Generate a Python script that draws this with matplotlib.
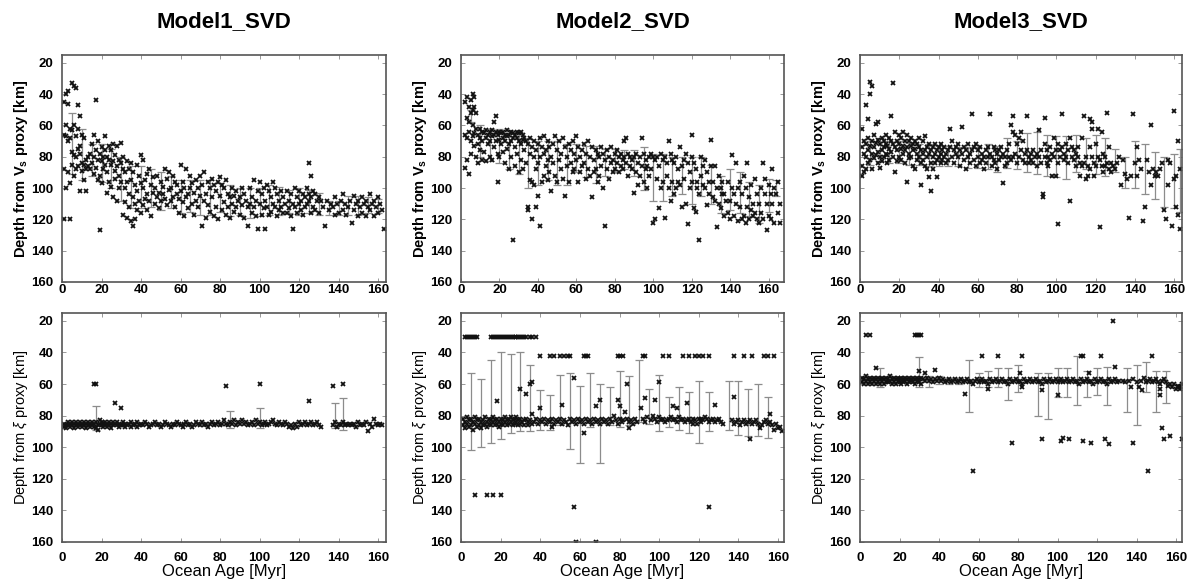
import matplotlib
matplotlib.use("Agg")
import matplotlib.pyplot as plt
import numpy as np

plt.rcParams['font.family'] = ['Liberation Sans', 'DejaVu Sans']
plt.rcParams['mathtext.fontset'] = 'custom'
plt.rcParams['mathtext.rm'] = 'Liberation Sans'
plt.rcParams['mathtext.it'] = 'Liberation Sans:italic'
plt.rcParams['mathtext.bf'] = 'Liberation Sans:bold'

titles = ["Model1_SVD", "Model2_SVD", "Model3_SVD"]
xticks = [0, 20, 40, 60, 80, 100, 120, 140, 160]
yticks = [20, 40, 60, 80, 100, 120, 140, 160]

# ---------------- Model1, Vs proxy ----------------
m1_vs = [
(1,45),(1,66),(1,88),(1,120),(2,40),(2,60),(2,67),(2,100),(3,38),(3,70),(3,46),(3,90),(4,62),(4,68),(4,97),(4,120),
(5,33),(5,63),(5,77),(5,85),(6,35),(6,60),(6,79),(6,92),(7,36),(7,67),(7,80),(7,88),(8,47),(8,62),(8,75),(8,86),
(9,54),(9,73),(9,78),(9,102),(10,66),(10,84),(10,89),(11,68),(11,85),(11,95),(12,82),(12,88),(12,102),(13,80),(13,86),
(14,78),(14,88),(15,72),(15,84),(16,66),(16,80),(16,91),(17,44),(17,76),(17,87),(18,70),(18,82),(18,95),(19,127),(19,78),
(19,92),(20,74),(20,83),(20,97),(21,80),(21,88),(22,67),(22,76),(22,85),(23,80),(23,90),(23,103),(24,73),(24,82),(24,96),
(25,76),(25,85),(25,99),(26,72),(26,83),(26,106),(27,79),(27,89),(27,94),(28,73),(28,86),(28,108),(29,82),(29,92),(29,100),
(30,71),(30,84),(30,96),(31,80),(31,88),(31,117),(32,90),(32,100),(32,109),(33,83),(33,96),(33,119),(34,88),(34,104),(34,112),
(35,84),(35,95),(35,121),(36,90),(36,106),(36,124),(37,98),(37,110),(37,120),(38,85),(38,102),(38,114),(39,92),(39,108),
(40,79),(40,97),(40,116),(41,82),(41,100),(41,111),(42,95),(42,107),(43,91),(43,104),(43,114),(44,88),(44,108),(45,98),
(45,118),(46,93),(46,103),(47,100),(47,110),(48,92),(48,106),(49,103),(49,113),(50,96),(50,108),(51,99),(51,104),(52,88),
(52,107),(53,94),(53,111),(54,90),(54,101),(55,100),(55,108),(56,92),(56,106),(57,96),(57,112),(58,98),(58,104),(59,107),
(59,116),(60,85),(60,102),(61,96),(61,109),(62,100),(62,118),(63,88),(63,106),(64,104),(64,113),(65,92),(65,100),(66,97),
(66,110),(67,103),(67,117),(68,95),(68,108),(69,100),(69,112),(70,92),(70,105),(71,98),(71,124),(72,90),(72,108),(73,104),
(73,119),(74,96),(74,111),(75,100),(75,115),(76,94),(76,106),(77,98),(77,118),(78,102),(78,112),(79,96),(79,120),(80,93),
(80,105),(81,98),(81,114),(82,100),(82,109),(83,95),(83,117),(84,104),(84,112),(85,106),(85,119),(86,100),(86,110),(87,105),
(87,115),(88,102),(88,112),(89,108),(90,106),(90,117),(91,100),(91,111),(92,104),(92,119),(93,108),(94,112),(94,124),(95,100),
(95,110),(96,106),(96,116),(97,95),(97,112),(98,108),(98,118),(99,102),(99,126),(100,96),(100,110),(101,104),(101,117),
(102,100),(102,113),(103,108),(103,126),(104,98),(104,112),(105,102),(105,117),(106,106),(106,115),(107,96),(107,110),
(108,100),(108,112),(109,104),(109,118),(110,108),(110,114),(111,102),(111,112),(112,106),(112,116),(113,110),(114,102),
(114,116),(115,108),(115,113),(116,104),(116,118),(117,110),(117,126),(118,100),(118,112),(119,106),(119,116),(120,102),
(120,110),(121,108),(121,114),(122,104),(122,117),(123,106),(123,112),(124,100),(124,110),(125,84),(125,104),(125,108),
(126,92),(126,106),(126,116),(127,102),(127,112),(128,104),(128,114),(129,108),(130,106),(130,116),(131,108),(132,112),
(133,124),(134,108),(135,114),(136,110),(137,112),(138,106),(138,117),(139,110),(140,116),(141,108),(142,104),(142,114),
(143,110),(144,117),(145,112),(146,108),(147,122),(148,105),(148,114),(149,110),(150,108),(150,118),(151,112),(152,106),
(152,116),(153,110),(154,108),(154,118),(155,112),(156,104),(156,114),(157,110),(158,108),(158,118),(159,112),(160,106),
(160,116),(161,110),(162,114),(163,126),
]
m1_vs_eb_age = [5,10,15,20,25,30,35,40,45,50,55,60,65,70,75,80,85,90,95,100,105,110,115,120,125,130,135,140,145,150,155,160]
m1_vs_eb_lo = [52,62,72,72,75,80,86,86,88,90,92,95,95,95,95,97,98,100,100,100,98,99,101,100,101,103,108,108,105,105,106,107]
m1_vs_eb_hi = [91,95,92,96,100,108,113,113,112,114,113,116,115,117,117,115,118,117,119,118,117,117,116,117,116,117,117,117,117,117,116,116]

# ---------------- Model2, Vs proxy ----------------
m2_vs = [
(2,45),(2,66),(2,87),(3,42),(3,55),(3,68),(3,82),(4,48),(4,58),(4,64),(4,91),(5,44),(5,52),(5,70),(5,78),(6,40),(6,50),
(6,60),(6,67),(7,42),(7,48),(7,65),(7,73),(8,52),(8,62),(8,80),(9,66),(9,72),(9,84),(10,62),(10,68),(10,76),(11,64),(11,70),
(11,82),(12,65),(12,77),(13,63),(13,68),(13,83),(14,66),(14,72),(15,64),(15,70),(15,80),(16,63),(16,67),(16,82),(17,58),
(17,66),(17,74),(18,54),(18,64),(18,70),(19,66),(19,78),(19,96),(20,64),(20,69),(20,80),(21,65),(21,72),(22,64),(22,68),
(22,77),(23,66),(23,70),(23,84),(24,63),(24,67),(24,75),(25,66),(25,72),(25,88),(26,64),(26,70),(26,80),(27,65),(27,68),
(27,133),(28,66),(28,74),(28,86),(29,64),(29,68),(29,78),(30,65),(30,70),(30,90),(31,64),(31,72),(31,82),(32,66),(32,69),
(32,88),(33,68),(33,76),(34,70),(34,84),(35,72),(35,112),(35,114),(36,68),(36,78),(36,95),(37,74),(37,96),(37,120),(38,70),
(38,80),(38,98),(39,76),(39,88),(39,112),(40,72),(40,84),(40,105),(41,68),(41,80),(41,124),(42,74),(42,96),(43,67),(43,78),
(43,92),(44,76),(44,86),(45,70),(45,82),(45,95),(46,74),(46,90),(47,80),(47,102),(48,72),(48,84),(49,67),(49,92),(50,76),
(50,96),(51,70),(51,82),(52,78),(52,88),(53,68),(53,94),(54,74),(54,105),(55,80),(55,86),(56,72),(56,96),(57,76),(57,84),
(58,70),(58,90),(59,78),(59,88),(60,67),(60,82),(61,74),(61,96),(62,80),(62,90),(63,76),(63,86),(64,72),(64,84),(65,78),
(65,94),(66,70),(66,88),(67,80),(67,92),(68,74),(68,106),(69,82),(69,90),(70,76),(70,88),(71,78),(71,96),(72,80),(72,92),
(73,74),(73,86),(74,78),(74,100),(75,82),(75,124),(76,76),(76,88),(77,80),(77,94),(78,74),(78,84),(79,82),(79,90),(80,78),
(80,88),(81,76),(81,84),(82,80),(82,90),(83,78),(83,86),(84,82),(84,88),(85,70),(85,80),(86,68),(86,84),(87,78),(87,92),
(88,80),(88,86),(89,82),(89,88),(90,80),(90,103),(91,78),(91,90),(92,84),(92,98),(93,80),(93,92),(94,68),(94,86),(95,78),
(95,96),(96,82),(96,88),(97,86),(97,100),(98,80),(98,92),(99,78),(99,88),(100,80),(100,122),(101,82),(101,120),(102,80),
(102,94),(103,86),(103,113),(104,78),(104,100),(105,82),(105,96),(106,80),(106,119),(107,84),(107,92),(108,70),(108,100),
(109,78),(109,108),(110,82),(110,96),(111,84),(111,104),(112,80),(112,100),(113,88),(113,96),(114,74),(114,98),(115,86),
(115,112),(116,82),(116,94),(117,78),(117,110),(118,84),(118,123),(119,90),(119,100),(120,66),(120,80),(120,96),(121,84),
(121,113),(122,88),(122,115),(123,96),(123,100),(124,104),(124,133),(125,80),(125,92),(126,86),(126,98),(127,82),(127,100),
(128,90),(128,111),(129,96),(129,104),(130,69),(130,86),(131,96),(131,106),(132,86),(132,108),(133,100),(133,125),(134,92),
(134,110),(135,100),(135,113),(136,96),(136,104),(137,104),(137,118),(138,108),(139,96),(139,116),(140,108),(140,120),
(141,79),(141,100),(142,104),(142,118),(143,84),(143,110),(144,100),(144,121),(145,96),(145,112),(146,104),(146,120),
(147,92),(147,118),(148,100),(148,122),(149,84),(149,112),(150,106),(150,120),(151,98),(151,114),(152,110),(152,118),
(153,94),(153,116),(154,104),(154,120),(155,110),(155,122),(156,100),(156,116),(157,84),(157,120),(158,94),(158,104),
(159,110),(159,127),(160,98),(160,118),(161,104),(161,120),(162,88),(162,110),(163,100),(163,122),(164,104),(165,96),
(165,116),(166,110),(166,122),
]
m2_vs_eb_age = [5,10,15,20,25,30,35,40,45,50,55,60,65,70,75,80,85,90,95,100,105,110,115,120,125,130,135,140,145,150,155,160,164]
m2_vs_eb_lo = [50,60,62,62,63,64,68,70,70,70,72,72,73,73,75,75,76,76,74,78,78,80,80,80,80,85,92,88,90,96,98,94,95]
m2_vs_eb_hi = [58,80,83,84,88,91,100,98,95,98,98,90,93,97,92,90,88,92,101,108,108,105,104,110,105,110,116,114,116,118,122,115,105]

# ---------------- Model3, Vs proxy ----------------
m3_vs = [
(1,62),(1,74),(1,86),(1,92),(2,70),(2,78),(2,90),(3,47),(3,72),(3,80),(3,88),(4,56),(4,68),(4,76),(4,84),(5,32),(5,40),
(5,73),(5,82),(6,35),(6,70),(6,78),(6,88),(7,66),(7,74),(7,81),(8,59),(8,71),(8,79),(9,58),(9,69),(9,77),(9,84),(10,72),
(10,80),(10,87),(11,68),(11,76),(11,83),(12,70),(12,74),(12,80),(13,66),(13,72),(13,78),(14,73),(14,79),(14,84),(15,68),
(15,75),(15,82),(16,54),(16,70),(16,77),(17,33),(17,72),(17,80),(18,64),(18,74),(18,90),(19,70),(19,76),(19,83),(20,66),
(20,72),(20,80),(21,68),(21,75),(21,82),(22,64),(22,73),(22,78),(23,70),(23,76),(23,84),(24,66),(24,74),(24,96),(25,70),
(25,78),(25,81),(26,68),(26,73),(26,80),(27,72),(27,76),(27,86),(28,70),(28,75),(28,88),(29,72),(29,78),(29,82),(30,68),
(30,74),(30,80),(31,76),(31,84),(31,98),(32,70),(32,78),(32,82),(33,67),(33,76),(33,86),(34,74),(34,80),(34,88),(35,72),
(35,78),(35,93),(36,76),(36,84),(36,102),(37,74),(37,80),(37,88),(38,72),(38,78),(38,84),(39,76),(39,82),(39,93),(40,74),
(40,80),(41,72),(41,78),(41,84),(42,76),(42,82),(43,74),(43,80),(44,78),(44,84),(45,76),(45,82),(46,62),(46,74),(47,70),
(47,80),(48,76),(48,84),(49,74),(49,78),(50,72),(50,80),(51,76),(51,86),(52,61),(52,78),(53,74),(53,82),(54,76),(54,88),
(55,72),(55,80),(56,78),(56,84),(57,53),(57,76),(58,74),(58,82),(59,72),(59,86),(60,76),(60,80),(61,74),(61,84),(62,78),
(62,82),(63,80),(63,88),(64,76),(64,84),(65,74),(65,80),(66,53),(66,78),(67,80),(67,86),(68,74),(68,82),(69,76),(69,84),
(70,78),(70,88),(71,76),(71,82),(72,74),(72,80),(73,78),(73,97),(74,80),(74,86),(75,76),(75,84),(76,72),(76,80),(77,60),
(77,82),(78,54),(78,64),(78,80),(79,66),(79,78),(80,72),(80,84),(81,68),(81,80),(82,64),(82,76),(83,70),(83,82),(84,78),
(84,84),(85,54),(85,76),(86,80),(86,84),(87,78),(87,82),(88,76),(88,84),(89,80),(90,78),(90,86),(91,63),(91,80),(92,76),
(92,84),(93,104),(93,106),(94,55),(94,72),(94,80),(95,76),(95,84),(96,80),(96,86),(97,74),(97,82),(98,78),(98,92),(99,68),
(99,80),(100,76),(100,92),(101,72),(101,84),(101,123),(102,76),(102,80),(103,53),(103,74),(104,78),(104,82),(105,72),
(105,80),(106,76),(106,84),(107,68),(107,108),(108,74),(108,80),(109,76),(109,82),(110,78),(110,86),(111,74),(111,80),
(112,84),(112,92),(113,68),(113,86),(114,54),(114,84),(115,80),(115,94),(116,86),(116,92),(117,56),(117,74),(117,88),
(118,58),(118,62),(118,80),(119,84),(119,92),(120,72),(120,86),(121,62),(121,80),(122,82),(122,125),(123,64),(123,86),
(124,78),(124,90),(125,80),(125,86),(126,52),(126,84),(127,74),(127,88),(128,84),(128,90),(129,86),(130,88),(131,84),
(132,80),(133,98),(134,82),(135,91),(136,94),(137,119),(138,92),(139,53),(140,84),(141,74),(141,92),(142,82),(143,88),
(144,121),(145,112),(146,82),(147,90),(148,60),(148,98),(149,88),(150,92),(151,90),(152,92),(153,88),(154,84),(155,114),
(156,120),(157,82),(157,98),(158,84),(159,124),(160,51),(160,94),(161,112),(161,92),(162,117),(162,70),(163,126),(163,88),
]
m3_vs_eb_age = [5,10,15,20,25,30,35,40,45,50,55,60,65,70,75,80,85,90,95,100,105,110,115,120,125,130,135,140,145,150,155,160,163]
m3_vs_eb_lo = [70,68,70,70,71,72,72,73,73,74,74,74,72,73,68,70,65,64,66,67,67,66,68,66,68,75,80,70,72,77,80,78,75]
m3_vs_eb_hi = [85,83,84,84,85,85,86,86,86,86,87,87,88,90,87,88,90,91,92,93,94,90,88,91,92,90,100,100,104,107,112,113,115]

# ---------------- Model1, xi proxy ----------------
m1_xi = [
(1,85),(1,87),(2,86),(2,88),(3,84),(3,86),(4,85),(4,87),(5,86),(5,84),(6,85),(6,88),(7,86),(7,84),(8,87),(8,85),(9,84),
(9,86),(10,85),(10,87),(11,86),(11,84),(12,85),(12,88),(13,84),(13,86),(14,87),(14,85),(15,84),(15,86),(16,60),(16,85),
(16,87),(17,60),(17,84),(17,88),(18,86),(18,89),(19,85),(19,83),(20,86),(20,84),(21,85),(21,87),(22,84),(22,86),(23,85),
(23,87),(24,86),(24,84),(25,85),(25,88),(26,84),(26,86),(27,85),(27,72),(28,86),(28,84),(29,85),(29,87),(30,75),(30,86),
(31,84),(31,86),(32,85),(32,87),(33,86),(34,85),(35,84),(35,87),(36,86),(37,85),(38,84),(38,87),(39,86),(40,85),(41,86),
(42,84),(43,85),(44,87),(45,86),(46,85),(47,84),(48,86),(49,85),(50,87),(51,86),(52,84),(53,85),(54,86),(55,87),(56,85),
(57,86),(58,84),(59,85),(60,86),(61,87),(62,85),(63,84),(64,86),(65,85),(66,87),(67,86),(68,84),(69,85),(70,86),(71,84),
(72,86),(73,85),(74,87),(75,85),(76,84),(77,86),(78,85),(79,84),(80,86),(81,85),(82,83),(83,61),(83,85),(84,86),(85,84),
(86,85),(87,83),(88,86),(89,84),(90,85),(91,83),(92,85),(93,84),(94,86),(95,85),(96,84),(97,86),(98,83),(99,85),(100,60),
(100,84),(101,86),(102,85),(103,84),(104,86),(105,85),(106,84),(107,83),(108,85),(109,86),(110,84),(111,85),(112,86),
(113,84),(114,85),(115,87),(116,86),(117,88),(118,85),(119,87),(120,84),(121,86),(122,85),(123,84),(124,86),(125,71),
(125,85),(126,84),(127,86),(128,85),(129,84),(130,86),(131,87),(137,61),(137,86),(138,84),(139,87),(140,85),(141,86),
(142,60),(142,84),(143,86),(144,85),(145,86),(146,85),(147,86),(148,85),(149,87),(150,84),(151,86),(152,85),(153,86),
(154,84),(155,90),(156,85),(157,87),(158,82),(159,85),(160,86),(161,85),(162,86),
]
m1_xi_eb_age = [17,85,100,138,142]
m1_xi_eb_lo = [74,77,75,72,69]
m1_xi_eb_hi = [89,88,88,88,89]

# ---------------- Model2, xi proxy ----------------
m2_xi = [
(2,30),(3,30),(4,30),(5,30),(6,30),(7,30),(8,30),(15,30),(16,30),(17,30),(18,30),(19,30),(20,30),(21,30),(22,30),(23,30),
(24,30),(25,30),(26,30),(27,30),(28,30),(29,30),(30,30),(31,30),(32,30),(33,30),(35,30),(36,30),(38,30),
(40,42),(45,42),(47,42),(50,42),(52,42),(54,42),(55,42),(62,42),(63,42),(64,42),(79,42),(80,42),(82,42),(92,42),(93,42),
(102,42),(105,42),(112,42),(115,42),(118,42),(120,42),(122,42),(125,42),(138,42),(143,42),(147,42),(153,42),(155,42),(158,42),
(7,130),(13,130),(16,130),(20,130),(57,138),(125,138),(58,160),(68,160),
(18,71),(30,63),(33,66),(35,60),(36,59),(40,75),(46,87),(51,73),(57,56),(62,91),(68,74),(70,70),(79,70),(80,74),(84,60),
(85,88),(91,75),(93,69),(98,70),(100,59),(107,74),(109,75),(114,72),(117,85),(121,82),(128,73),(138,68),(146,95),(156,79),
(1,82),(1,86),(2,84),(2,88),(3,81),(3,85),(4,83),(4,87),(5,82),(5,86),(6,84),(6,89),(7,81),(7,85),(8,83),(8,87),(9,82),
(9,86),(10,84),(10,88),(11,83),(11,86),(12,81),(12,85),(13,84),(13,87),(14,82),(14,85),(15,83),(15,86),(16,81),(16,84),
(17,83),(17,86),(18,82),(18,85),(19,84),(19,87),(20,82),(20,85),(21,83),(21,86),(22,81),(22,84),(23,83),(23,86),(24,82),
(24,85),(25,84),(25,81),(26,83),(26,86),(27,82),(27,85),(28,84),(28,81),(29,83),(29,86),(30,82),(30,85),(31,84),(32,83),
(32,86),(33,82),(34,84),(34,86),(35,83),(36,85),(36,79),(37,84),(38,82),(39,85),(40,83),(41,84),(42,82),(43,85),(44,83),
(45,84),(46,82),(47,85),(48,83),(49,84),(50,82),(51,85),(52,83),(53,84),(54,86),(55,82),(56,84),(57,83),(58,85),(59,82),
(60,84),(61,83),(62,85),(63,82),(64,84),(65,83),(66,85),(67,82),(68,84),(69,83),(70,85),(71,82),(72,84),(73,83),(74,85),
(75,82),(76,84),(77,80),(78,83),(79,85),(80,82),(81,84),(82,83),(83,78),(84,82),(85,84),(86,83),(87,85),(88,82),(89,84),
(92,82),(93,84),(94,81),(96,83),(97,80),(98,82),(99,84),(100,81),(101,83),(102,82),(103,84),(104,83),(105,82),(106,81),
(107,83),(108,82),(109,84),(110,81),(111,83),(112,82),(113,84),(114,83),(115,82),(116,84),(117,82),(118,83),(119,85),
(120,82),(121,84),(122,83),(123,81),(124,82),(125,84),(126,83),(127,82),(128,84),(129,83),(130,82),(131,84),(132,85),
(137,83),(138,85),(139,84),(140,83),(141,86),(142,84),(143,83),(144,85),(145,84),(146,83),(147,85),(148,84),(149,83),
(150,85),(151,88),(152,86),(153,84),(154,83),(155,85),(156,84),(157,86),(158,89),(159,85),(160,88),(161,87),(162,90),
]
m2_xi_eb_age = [5,10,15,20,25,30,35,40,45,50,55,60,65,70,75,80,85,90,95,100,105,110,115,120,125,135,140,145,150,155]
m2_xi_eb_lo = [53,57,45,40,41,40,48,64,67,54,53,61,53,60,62,52,55,45,63,54,68,62,65,58,65,58,58,63,60,68]
m2_xi_eb_hi = [102,100,97,95,91,90,90,89,89,86,101,110,87,110,86,87,86,84,85,90,87,89,91,97,90,89,92,93,93,94]

# ---------------- Model3, xi proxy ----------------
m3_xi = [
(3,29),(5,29),(28,29),(29,29),(30,29),(31,29),(128,20),
(62,42),(70,42),(82,42),(112,42),(113,42),(122,42),(148,42),
(38,51),(8,50),(30,52),(33,53),(53,66),(57,115),(65,63),(77,97),(81,53),(82,62),(92,95),(92,64),(100,67),(102,96),
(103,94),(106,95),(113,96),(116,53),(117,97),(124,95),(126,98),(129,49),(137,62),(138,97),(141,62),(143,64),(146,115),
(152,63),(152,67),(153,88),(154,95),(157,93),(163,95),(161,62),(162,63),
(1,56),(1,59),(2,57),(2,60),(3,55),(3,58),(4,57),(4,60),(5,56),(5,59),(6,57),(6,60),(7,56),(7,58),(8,57),(8,60),(9,56),
(9,59),(10,57),(10,60),(11,56),(11,58),(12,57),(12,60),(13,56),(13,59),(14,57),(14,59),(15,55),(15,58),(16,57),(16,60),
(17,56),(17,59),(18,57),(18,60),(19,56),(19,58),(20,57),(20,59),(21,56),(21,60),(22,57),(22,59),(23,56),(23,58),(24,57),
(24,60),(25,56),(25,59),(26,57),(26,58),(27,56),(27,59),(28,57),(28,60),(29,56),(29,58),(30,57),(30,59),(31,56),(31,60),
(32,57),(33,58),(34,56),(35,58),(36,57),(37,59),(38,57),(39,58),(40,56),(41,58),(42,57),(43,59),(44,58),(45,57),(46,59),
(47,58),(48,57),(49,59),(50,58),(51,57),(52,59),(53,58),(54,57),(55,59),(56,58),(57,60),(58,58),(59,57),(60,59),(61,58),
(62,57),(63,59),(64,58),(65,60),(66,57),(67,59),(68,58),(69,57),(70,59),(71,58),(72,57),(73,59),(74,58),(75,60),(76,57),
(77,59),(78,58),(79,57),(80,59),(81,58),(82,60),(83,57),(84,59),(85,58),(86,57),(87,59),(88,58),(89,57),(90,59),(91,58),
(92,60),(93,57),(94,59),(95,58),(96,57),(97,59),(98,58),(99,57),(100,59),(101,58),(102,57),(103,59),(104,58),(105,57),
(106,59),(107,58),(108,57),(109,59),(110,58),(111,60),(112,57),(113,59),(114,58),(115,57),(116,59),(117,58),(118,60),
(119,57),(120,59),(121,58),(122,57),(123,59),(124,58),(125,60),(126,57),(127,59),(128,58),(129,57),(130,59),(131,58),
(133,58),(134,59),(136,58),(138,57),(140,59),(142,58),(144,56),(145,59),(146,58),(147,57),(148,59),(149,58),(150,57),
(151,59),(152,60),(153,58),(154,57),(155,59),(156,61),(157,60),(158,62),(159,60),(160,63),(161,61),(162,62),(163,60),
]
m3_xi_eb_age = [10,30,35,40,45,50,55,60,65,70,75,80,90,95,100,105,110,115,120,125,135,140,145,150,155]
m3_xi_eb_lo = [50,43,55,55,56,56,45,53,52,50,50,48,53,53,50,50,42,52,50,49,50,48,46,52,52]
m3_xi_eb_hi = [62,62,62,60,60,60,78,62,62,62,70,65,80,82,68,68,73,68,67,73,78,86,65,78,72]

panels = [
    [(m1_vs, m1_vs_eb_age, m1_vs_eb_lo, m1_vs_eb_hi, 164),
     (m2_vs, m2_vs_eb_age, m2_vs_eb_lo, m2_vs_eb_hi, 168),
     (m3_vs, m3_vs_eb_age, m3_vs_eb_lo, m3_vs_eb_hi, 164)],
    [(m1_xi, m1_xi_eb_age, m1_xi_eb_lo, m1_xi_eb_hi, 164),
     (m2_xi, m2_xi_eb_age, m2_xi_eb_lo, m2_xi_eb_hi, 163),
     (m3_xi, m3_xi_eb_age, m3_xi_eb_lo, m3_xi_eb_hi, 163)],
]

fig = plt.figure(figsize=(11.89, 5.80), dpi=100)
W, H = 1189.0, 580.0
col_left = [62, 461, 860]
col_right = [386, 784, 1182]
row_top = [55, 313]
row_bot = [282, 542]

for r in range(2):
    for c in range(3):
        l, rr = col_left[c], col_right[c]
        t, b = row_top[r], row_bot[r]
        ax = fig.add_axes([l / W, 1 - b / H, (rr - l) / W, (b - t) / H])
        pts, eb_age, eb_lo, eb_hi, xmax = panels[r][c]
        ages = np.array([p[0] for p in pts], float)
        depths = np.array([p[1] for p in pts], float)
        lo = np.array(eb_lo, float)
        hi = np.array(eb_hi, float)
        mid = (lo + hi) / 2
        ax.errorbar(eb_age, mid, yerr=(hi - lo) / 2, fmt='none', ecolor='#8c8c8c',
                    elinewidth=0.9, capsize=3, capthick=0.9, zorder=1)
        ax.plot(ages, depths, 'x', color='#111111', ms=3.4, mew=1.3, zorder=2)
        ax.set_xlim(0, xmax)
        ax.set_ylim(160, 15)
        ax.set_xticks(xticks)
        ax.set_yticks(yticks)
        ax.tick_params(direction='in', length=3, width=0.6, color='#888888',
                       top=True, right=True, labelsize=9.5)
        ax.tick_params(axis='x', pad=1.5 if r == 0 else 7)
        ax.tick_params(axis='y', pad=6)
        for lab in ax.get_xticklabels() + ax.get_yticklabels():
            lab.set_fontweight('bold')
        for s in ax.spines.values():
            s.set_color('#555555')
            s.set_linewidth(1.2)
        if r == 0:
            ax.set_ylabel(r'Depth from V$_\mathbf{s}$ proxy [km]', fontsize=10.5,
                          fontweight='bold', labelpad=1)
        else:
            ax.set_ylabel(r'Depth from $\xi$ proxy [km]', fontsize=10.5, labelpad=1)
            ax.set_xlabel('Ocean Age [Myr]', fontsize=12, labelpad=0)

for c in range(3):
    cx = (col_left[c] + col_right[c]) / 2 / W
    fig.text(cx, 1 - 22 / H, titles[c], ha='center', va='center',
             fontsize=16, fontweight='bold')

fig.savefig('out.png', dpi=100)
